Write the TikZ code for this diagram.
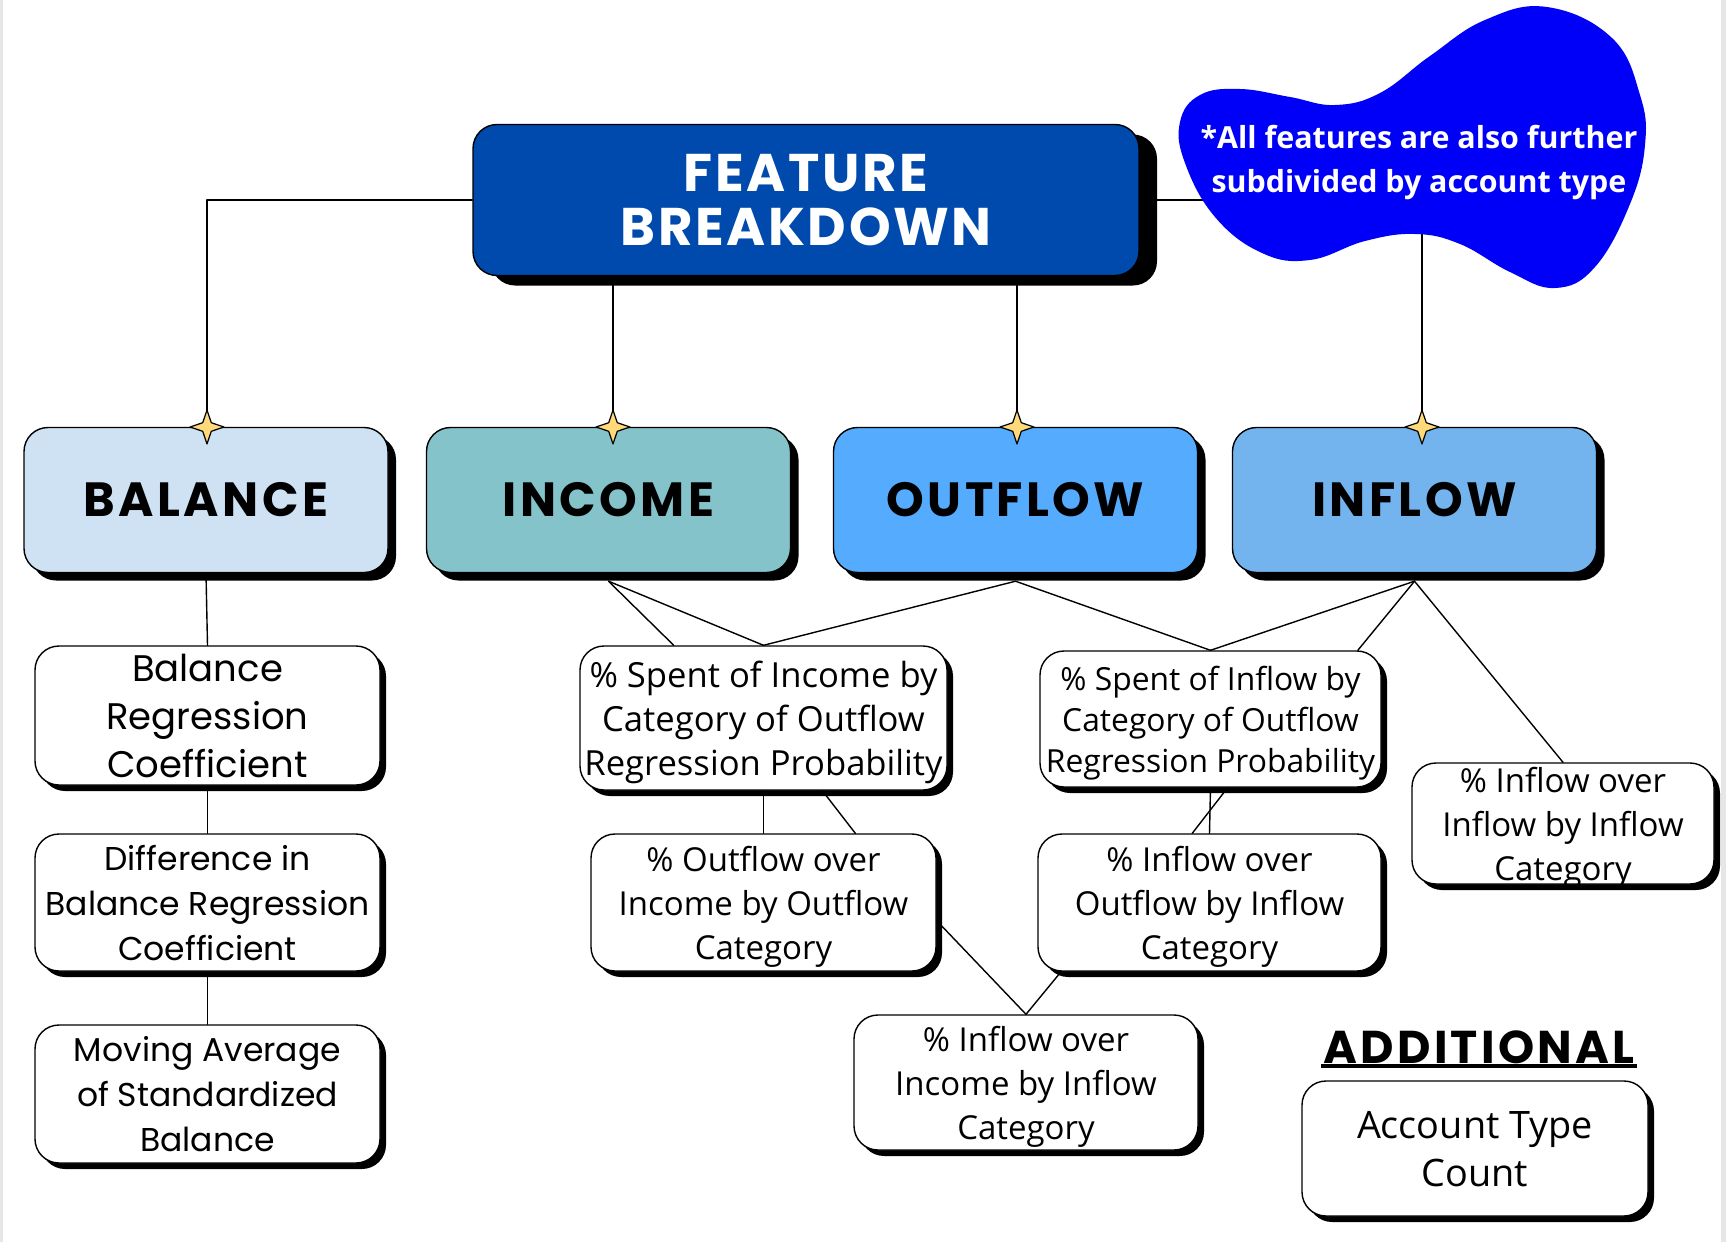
\documentclass[tikz,border=0pt]{standalone}
\usepackage{fontspec}
\setmainfont{Open Sans}
\newfontfamily\headfont{Poppins}[LetterSpace=7]
\newfontfamily\titlefont{Poppins}[LetterSpace=5]
\newfontfamily\geofont{Poppins}
\usetikzlibrary{shapes.geometric,shadows}
\definecolor{topblue}{HTML}{004AAD}
\definecolor{balfill}{HTML}{CFE2F3}
\definecolor{incfill}{HTML}{84C3C9}
\definecolor{outfill}{HTML}{55ACFF}
\definecolor{inffill}{HTML}{73B4EE}
\definecolor{blobblue}{HTML}{0000F8}
\definecolor{starfill}{HTML}{FFD97A}
\definecolor{edgegray}{HTML}{E6E6E8}
\begin{document}
\begin{tikzpicture}[x=.5pt,y=-.5pt, line join=round, line cap=round,
	box/.style={draw=black, line width=.7pt, rounded corners=12pt, align=center, inner sep=0pt},
	hshadow/.style={drop shadow={shadow xshift=#1,shadow yshift=-#1,opacity=1,fill=black}},
	group/.style={box, hshadow=4pt, minimum width=182pt, minimum height=72.5pt, font=\headfont\bfseries\fontsize{24}{28}\selectfont},
	feat/.style={box, hshadow=3pt, fill=white, text depth=0pt, minimum width=172.5pt, minimum height=68.5pt, font=\fontsize{16.5}{22}\selectfont},
	geo/.style={feat, font=\geofont\fontsize{16.5}{22.5}\selectfont},
	conn/.style={line width=.7pt},
	sparkle/.style={star, star points=4, star point ratio=2.8, minimum size=17pt, inner sep=0pt, draw=black, line width=.6pt, fill=starfill}]
	\useasboundingbox (0,0) rectangle (1726,1242);
	\fill[edgegray] (0,0) rectangle (3,1242); % vien hai ben
	\fill[edgegray] (1721,0) rectangle (1726,1242);
	% hop tieu de
	\node[box, fill=topblue, text=white, minimum width=333pt, minimum height=75.5pt, drop shadow={shadow xshift=9pt,shadow yshift=-5pt,opacity=1,fill=black}, font=\titlefont\bfseries\fontsize{26.5}{27}\selectfont] (top) at (806,200) {FEATURE\\BREAKDOWN};
	% bon nhom
	\node[group, fill=balfill] (balance) at (206,500) {BALANCE};
	\node[group, fill=incfill] (income) at (608.5,500) {INCOME};
	\node[group, fill=outfill] (outflow) at (1015.5,500) {OUTFLOW};
	\node[group, fill=inffill] (inflow) at (1414.5,500) {INFLOW};
	% cot balance
	\node[geo, font=\geofont\fontsize{18.5}{24}\selectfont, minimum height=69.5pt] (breg) at (207.5,715.5) {Balance\\Regression\\Coefficient};
	\node[geo] (bdiff) at (207.5,902.5) {Difference in\\Balance Regression\\Coefficient};
	\node[geo, minimum height=69pt] (bmov) at (207.5,1094) {Moving Average\\of Standardized\\Balance};
	% cac dac trung
	\node[feat, minimum width=183.5pt, minimum height=72pt, font=\fontsize{17.3}{22}\selectfont] (spinc) at (763.5,718) {\% Spent of Income by\\Category of Outflow\\Regression Probability};
	\node[feat] (ooi) at (763.5,902.5) {\% Outflow over\\Income by Outflow\\Category};
	\node[feat, minimum width=170.5pt, minimum height=68pt, font=\fontsize{15.9}{20.5}\selectfont] (spinf) at (1210.5,719) {\% Spent of Inflow by\\Category of Outflow\\Regression Probability};
	\node[feat, minimum width=171.5pt] (ioo) at (1209.5,902.5) {\% Inflow over\\Outflow by Inflow\\Category};
	\node[feat, minimum width=151pt, minimum height=60.5pt, text depth=-3.5pt] (ioi) at (1563,823.5) {\% Inflow over\\Inflow by Inflow\\Category};
	\node[feat, minimum width=172pt, minimum height=67.5pt, text depth=-3pt] (ioinc) at (1026,1082.5) {\% Inflow over\\Income by Inflow\\Category};
	\node[font=\headfont\bfseries\fontsize{23}{26}\selectfont, inner sep=1pt] (add) at (1479,1047) {ADDITIONAL};
	\draw[line width=1.6pt, line cap=butt] (add.south west) -- (add.south east);
	\node[feat, minimum width=173pt, minimum height=67.5pt, font=\fontsize{18.9}{24}\selectfont] (atc) at (1475,1148.5) {Account Type\\Count};
	% sao va duong noi
	\node[coordinate] (s1) at (207,427) {};
	\node[coordinate] (s2) at (613,427) {};
	\node[coordinate] (s3) at (1017,427) {};
	\node[coordinate] (s4) at (1422,427) {};
	\node[coordinate] (incb) at ([yshift=-4pt]income.south) {};
	\node[coordinate] (outb) at ([yshift=-4pt]outflow.south) {};
	\node[coordinate] (infb) at ([yshift=-4pt]inflow.south) {};
	\draw[conn] (top.west) -| (s1);
	\draw[conn] (s2) -- (s2 |- top.south);
	\draw[conn] (s3) -- (s3 |- top.south);
	\draw[conn] (top.east) -| (s4);
	\draw[conn] (breg.north) -- (balance.south);
	\draw[conn] (breg.south) -- (bdiff.north);
	\draw[conn] (bdiff.south) -- (bmov.north);
	\draw[conn] (incb) -- (spinc.141);
	\draw[conn] (incb) -- (spinc.north);
	\draw[conn] (outb) -- (spinc.north);
	\draw[conn] (outb) -- (spinf.north);
	\draw[conn] (infb) -- (spinf.north);
	\draw[conn] (infb) -- (spinf.25);
	\draw[conn] (infb) -- (ioi.north);
	\draw[conn] (spinc.south) -- (ooi.north);
	\draw[conn] (spinc.-51) -- (ooi.37);
	\draw[conn] (spinf.south) -- (ioo.north);
	\draw[conn] (spinf.-76) -- (ioo.104);
	\draw[conn] (ooi.-6) -- (ioinc.north);
	\draw[conn] (ioo.-155) -- (ioinc.north);
	\foreach \s in {s1,s2,s3,s4}
		\node[sparkle] (\s-mark) at (\s) {};
	% dam may xanh
	\fill[blobblue] plot[smooth cycle, tension=.7] coordinates {(1547,7) (1612,38) (1640,95) (1645,145) (1630,204) (1595,267) (1555,288) (1510,272) (1460,244) (1415,234) (1365,241) (1310,260) (1262,253) (1215,217) (1185,163) (1180,122) (1200,95) (1240,89) (1290,97) (1335,105) (1380,93) (1430,56) (1485,20)};
	\node[text=white, font=\bfseries\fontsize{15.2}{22}\selectfont, align=center] (note) at (1419,163) {*All features are also further\\subdivided by account type};
\end{tikzpicture}
\end{document}
